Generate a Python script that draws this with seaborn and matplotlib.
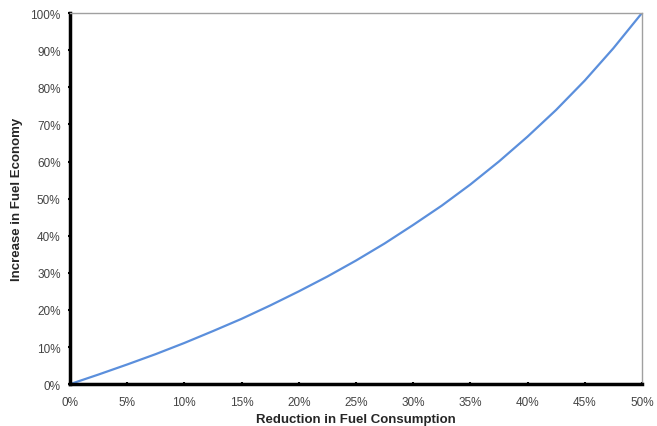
import numpy as np
import seaborn as sns
import matplotlib.pyplot as plt
from matplotlib.ticker import PercentFormatter

# values (percent)
reduction = [0, 2.5, 5, 7.5, 10, 12.5, 15, 17.5, 20, 22.5, 25,
             27.5, 30, 32.5, 35, 37.5, 40, 42.5, 45, 47.5, 50]
increase = [0, 2.6, 5.3, 8.1, 11.1, 14.3, 17.6, 21.2, 25.0, 29.0, 33.3,
            37.9, 42.9, 48.1, 53.8, 60.0, 66.7, 73.9, 81.8, 90.5, 100]

sns.set_style('white')
plt.rcParams['font.family'] = ['Liberation Sans', 'DejaVu Sans']

fig, ax = plt.subplots(figsize=(6.57, 4.27), dpi=100)
fig.subplots_adjust(left=0.1065, right=0.977, top=0.967, bottom=0.098)

sns.lineplot(x=reduction, y=increase, ax=ax, color='#5b8fdc', linewidth=1.6)

ax.set_xlim(0, 50)
ax.set_ylim(0, 100)
ax.set_xticks(np.arange(0, 51, 5))
ax.set_yticks(np.arange(0, 101, 10))
ax.xaxis.set_major_formatter(PercentFormatter(decimals=0))
ax.yaxis.set_major_formatter(PercentFormatter(decimals=0))

for side in ['left', 'bottom']:
    ax.spines[side].set_color('black')
    ax.spines[side].set_linewidth(2.5)
for side in ['top', 'right']:
    ax.spines[side].set_color('#a0a0a0')
    ax.spines[side].set_linewidth(1)

ax.tick_params(axis='both', direction='inout', length=3.5, width=1.5,
               color='black', labelsize=8.5, labelcolor='#444444',
               bottom=True, left=True)
ax.tick_params(axis='x', pad=7)
ax.tick_params(axis='y', pad=5)

ax.set_xlabel('Reduction in Fuel Consumption', fontsize=9.5, fontweight='bold', labelpad=3.5)
ax.set_ylabel('Increase in Fuel Economy', fontsize=9.5, fontweight='bold', labelpad=5)

fig.savefig('out.png', dpi=100)
